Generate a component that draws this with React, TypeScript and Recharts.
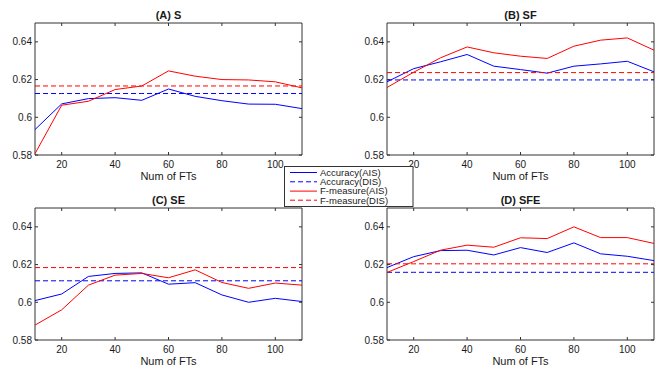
import React from "react"
import { LineChart, Line, XAxis, YAxis, ReferenceArea } from "recharts"

const FTS = [10, 20, 30, 40, 50, 60, 70, 80, 90, 100, 110]

// (A) S
const S_ACC_AIS = [0.5935, 0.6071, 0.6099, 0.6104, 0.609, 0.615, 0.6111, 0.6088, 0.607, 0.6069, 0.6046]
const S_FM_AIS = [0.5807, 0.6064, 0.6085, 0.6147, 0.6166, 0.6246, 0.6218, 0.62, 0.6198, 0.6188, 0.6156]
const S_ACC_DIS = 0.6126
const S_FM_DIS = 0.6166

// (B) SF
const SF_ACC_AIS = [0.6188, 0.6258, 0.6294, 0.6333, 0.6271, 0.6253, 0.6234, 0.6271, 0.6283, 0.6297, 0.6241]
const SF_FM_AIS = [0.6158, 0.6239, 0.6315, 0.6373, 0.6342, 0.6324, 0.6312, 0.6377, 0.6409, 0.6421, 0.6356]
const SF_ACC_DIS = 0.6198
const SF_FM_DIS = 0.6237

// (C) SE
const SE_ACC_AIS = [0.6009, 0.6044, 0.6137, 0.6153, 0.6156, 0.6096, 0.6104, 0.6039, 0.6, 0.6021, 0.6004]
const SE_FM_AIS = [0.5879, 0.596, 0.6091, 0.6144, 0.6153, 0.613, 0.6172, 0.6105, 0.6074, 0.6102, 0.6091]
const SE_ACC_DIS = 0.6114
const SE_FM_DIS = 0.6184

// (D) SFE
const SFE_ACC_AIS = [0.6184, 0.6242, 0.6274, 0.6276, 0.6251, 0.629, 0.6264, 0.6315, 0.6257, 0.6244, 0.6221]
const SFE_FM_AIS = [0.6158, 0.6216, 0.6276, 0.6303, 0.6292, 0.6342, 0.6338, 0.64, 0.6343, 0.6343, 0.6312]
const SFE_ACC_DIS = 0.6159
const SFE_FM_DIS = 0.6204

const X_TICKS = [20, 40, 60, 80, 100]
const Y_TICKS = [0.58, 0.6, 0.62, 0.64]
const LEGEND_LABELS = ["Accuracy(AIS)", "Accuracy(DIS)", "F-measure(AIS)", "F-measure(DIS)"]

const BLUE = "#0000ff"
const RED = "#ff0000"
const AXIS = "#333333"
const TEXT = "#1a1a1a"
const FONT = "'Liberation Sans', Arial, sans-serif"
const DASH = "5 3"

const W = 330
const H = 185
const M = { top: 23, right: 28, left: 0, bottom: 0 }
const Y_W = 35
const X_H = 30
const P_TOP = M.top
const P_BOTTOM = H - X_H
const P_LEFT = Y_W
const P_RIGHT = W - M.right

function XTick(props: any) {
  const { x, y, payload } = props
  return (
    <g>
      <line x1={x} x2={x} y1={P_BOTTOM} y2={P_BOTTOM - 3} stroke={AXIS} />
      <line x1={x} x2={x} y1={P_TOP} y2={P_TOP + 3} stroke={AXIS} />
      <text x={x} y={y} dy="0.71em" textAnchor="middle" fontSize={10} fill={TEXT} fontFamily={FONT}>
        {payload.value}
      </text>
    </g>
  )
}

function YTick(props: any) {
  const { x, y, payload } = props
  return (
    <g>
      <line x1={P_LEFT} x2={P_LEFT + 3} y1={y} y2={y} stroke={AXIS} />
      <line x1={P_RIGHT - 3} x2={P_RIGHT} y1={y} y2={y} stroke={AXIS} />
      <text x={x} y={y} dy="0.355em" textAnchor="end" fontSize={10} fill={TEXT} fontFamily={FONT}>
        {payload.value}
      </text>
    </g>
  )
}

type PanelProps = {
  title: string
  acc: number[]
  fm: number[]
  accDis: number
  fmDis: number
  left: number
  top: number
}

function Panel({ title, acc, fm, accDis, fmDis, left, top }: PanelProps) {
  const data = FTS.map((ft, i) => ({ ft, acc: acc[i], accDis, fm: fm[i], fmDis }))
  return (
    <div style={{ position: "absolute", left, top }}>
      <LineChart width={W} height={H} data={data} margin={M}>
        <XAxis
          dataKey="ft"
          type="number"
          domain={[10, 110]}
          ticks={X_TICKS}
          axisLine={false}
          tickLine={false}
          tickSize={0}
          tickMargin={6}
          height={X_H}
          tick={XTick}
          label={{ value: "Num of FTs", position: "insideBottom", offset: 5, fontSize: 11, fill: TEXT, fontFamily: FONT }}
        />
        <YAxis
          type="number"
          domain={[0.58, 0.65]}
          ticks={Y_TICKS}
          axisLine={false}
          tickLine={false}
          tickSize={0}
          tickMargin={3}
          width={Y_W}
          tick={YTick}
          allowDataOverflow
        />
        <ReferenceArea
          x1={10}
          x2={110}
          y1={0.58}
          y2={0.65}
          fill="none"
          fillOpacity={0}
          stroke={AXIS}
          strokeWidth={1}
          label={{ value: title, position: "top", offset: 4, fontSize: 11, fontWeight: "bold", fill: TEXT, fontFamily: FONT }}
        />
        <Line type="linear" dataKey="acc" stroke={BLUE} strokeWidth={1} dot={false} isAnimationActive={false} />
        <Line type="linear" dataKey="accDis" stroke={BLUE} strokeDasharray={DASH} strokeWidth={1} dot={false} isAnimationActive={false} />
        <Line type="linear" dataKey="fm" stroke={RED} strokeWidth={1} dot={false} isAnimationActive={false} />
        <Line type="linear" dataKey="fmDis" stroke={RED} strokeDasharray={DASH} strokeWidth={1} dot={false} isAnimationActive={false} />
      </LineChart>
    </div>
  )
}

function Legend() {
  const colors = [BLUE, BLUE, RED, RED]
  const dashed = [false, true, false, true]
  const rows = [6.5, 15.8, 25.1, 34.2]
  return (
    <svg width={130} height={42} style={{ position: "absolute", left: 284, top: 166, zIndex: 2 }}>
      <rect x={0.5} y={0.5} width={128.5} height={40} fill="#fff" stroke={AXIS} />
      {LEGEND_LABELS.map((label, i) => (
        <g key={label}>
          <line
            x1={6}
            x2={33}
            y1={rows[i]}
            y2={rows[i]}
            stroke={colors[i]}
            strokeWidth={1}
            strokeDasharray={dashed[i] ? DASH : undefined}
          />
          <text x={36} y={rows[i]} dy="0.355em" fontSize={9.5} fill={TEXT} fontFamily={FONT}>
            {label}
          </text>
        </g>
      ))}
    </svg>
  )
}

export default function App() {
  return (
    <div style={{ position: "absolute", left: 0, top: 0, width: 663, height: 374, background: "#fff" }}>
      <Panel title="(A) S" acc={S_ACC_AIS} fm={S_FM_AIS} accDis={S_ACC_DIS} fmDis={S_FM_DIS} left={0} top={0} />
      <Panel title="(B) SF" acc={SF_ACC_AIS} fm={SF_FM_AIS} accDis={SF_ACC_DIS} fmDis={SF_FM_DIS} left={352} top={0} />
      <Panel title="(C) SE" acc={SE_ACC_AIS} fm={SE_FM_AIS} accDis={SE_ACC_DIS} fmDis={SE_FM_DIS} left={0} top={185} />
      <Panel title="(D) SFE" acc={SFE_ACC_AIS} fm={SFE_FM_AIS} accDis={SFE_ACC_DIS} fmDis={SFE_FM_DIS} left={352} top={185} />
      <Legend />
    </div>
  )
}
